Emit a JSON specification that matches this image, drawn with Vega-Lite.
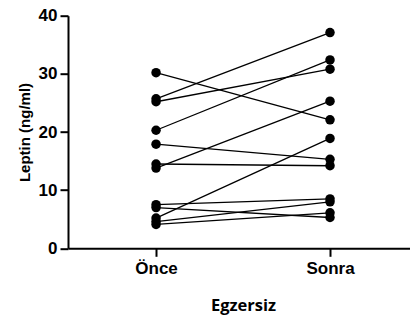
{
  "$schema": "https://vega.github.io/schema/vega-lite/v6.json",
  "width": 342,
  "height": 232.6,
  "autosize": {"type": "none"},
  "padding": {"left": 68, "top": 15.7, "right": 0, "bottom": 78.7},
  "background": "white",
  "config": {"view": {"stroke": null}},
  "data": {"values": [
    {"id": 1, "phase": "Önce", "value": 30.2}, {"id": 1, "phase": "Sonra", "value": 22.1},
    {"id": 2, "phase": "Önce", "value": 25.7}, {"id": 2, "phase": "Sonra", "value": 37.1},
    {"id": 3, "phase": "Önce", "value": 25.2}, {"id": 3, "phase": "Sonra", "value": 30.8},
    {"id": 4, "phase": "Önce", "value": 20.3}, {"id": 4, "phase": "Sonra", "value": 32.4},
    {"id": 5, "phase": "Önce", "value": 17.9}, {"id": 5, "phase": "Sonra", "value": 15.3},
    {"id": 6, "phase": "Önce", "value": 14.5}, {"id": 6, "phase": "Sonra", "value": 14.2},
    {"id": 7, "phase": "Önce", "value": 13.8}, {"id": 7, "phase": "Sonra", "value": 25.3},
    {"id": 8, "phase": "Önce", "value": 7.5}, {"id": 8, "phase": "Sonra", "value": 8.5},
    {"id": 9, "phase": "Önce", "value": 7.0}, {"id": 9, "phase": "Sonra", "value": 5.3},
    {"id": 10, "phase": "Önce", "value": 5.2}, {"id": 10, "phase": "Sonra", "value": 18.9},
    {"id": 11, "phase": "Önce", "value": 4.6}, {"id": 11, "phase": "Sonra", "value": 8.0},
    {"id": 12, "phase": "Önce", "value": 4.1}, {"id": 12, "phase": "Sonra", "value": 6.1}
  ]},
  "encoding": {
    "x": {
      "field": "phase", "type": "nominal", "sort": ["Önce", "Sonra"],
      "scale": {"type": "point", "padding": 0.483, "align": 0.524},
      "axis": {
        "title": "Egzersiz", "labelAngle": 0, "titleX": 175,
        "domainColor": "black", "domainWidth": 2, "tickColor": "black", "tickWidth": 2, "tickSize": 8,
        "labelFont": "Liberation Sans", "labelFontWeight": "bold", "labelFontSize": 17, "labelColor": "black", "labelPadding": 4,
        "titleFont": "Open Sans", "titleFontWeight": "bold", "titleFontSize": 16.5, "titleColor": "black", "titlePadding": 21
      }
    },
    "y": {
      "field": "value", "type": "quantitative",
      "scale": {"domain": [0, 40], "nice": false},
      "axis": {
        "title": "Leptin (ng/ml)", "values": [0, 10, 20, 30, 40], "grid": false,
        "domainColor": "black", "domainWidth": 2, "tickColor": "black", "tickWidth": 2, "tickSize": 8,
        "labelFont": "Liberation Sans", "labelFontWeight": "bold", "labelFontSize": 17, "labelColor": "black", "labelPadding": 3,
        "titleFont": "Liberation Sans", "titleFontWeight": "bold", "titleFontSize": 15, "titleColor": "black", "titlePadding": 6
      }
    }
  },
  "layer": [
    {"mark": {"type": "line", "color": "black", "strokeWidth": 1.3}, "encoding": {"detail": {"field": "id"}}},
    {"mark": {"type": "circle", "color": "black", "opacity": 1, "size": 90}}
  ]
}
